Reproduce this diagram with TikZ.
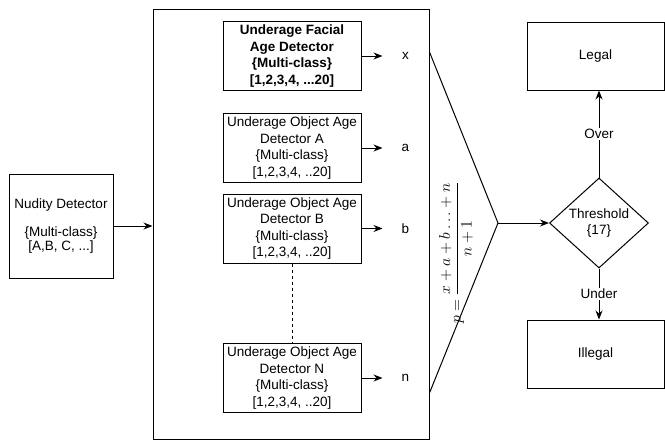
\RequirePackage{fix-cm}
\documentclass[tikz,border=0pt]{standalone}
\usepackage{fontspec}
\setmainfont{Liberation Sans}
\usetikzlibrary{shapes.geometric,arrows.meta}
\begin{document}
\begin{tikzpicture}[x=1pt,y=-1pt,line width=1pt,>={Stealth[length=9pt,width=7pt]}]
  \tikzstyle{detbox}=[draw,minimum width=138,minimum height=69,align=center,inner sep=1pt,font=\fontsize{13.5}{16.5}\selectfont]
  \tikzstyle{outlbl}=[inner sep=1pt,font=\fontsize{13.5}{16}\selectfont]
  \useasboundingbox (0,0) rectangle (665,440);
  % input stage
  \node[draw,minimum width=104,minimum height=104,align=center,font=\fontsize{13.5}{14}\selectfont] (nudity) at (61,226) {Nudity Detector\\[14pt]\{Multi-class\}\\{}[A,B, C, ...]};
  \node[draw,minimum width=276,minimum height=430] (stage) at (291,224) {};
  \draw[->] (nudity.east) -- (nudity.east -| stage.west);
  % age detectors
  \node[detbox,font=\fontsize{13.5}{16.5}\selectfont\bfseries] (face) at (292,56) {Underage Facial\\Age Detector\\\{Multi-class\}\\{}[1,2,3,4, ...20]};
  \node[detbox] (objA) at (292,148) {Underage Object Age\\Detector A\\\{Multi-class\}\\{}[1,2,3,4, ..20]};
  \node[detbox] (objB) at (292,228.5) {Underage Object Age\\Detector B\\\{Multi-class\}\\{}[1,2,3,4, ..20]};
  \node[detbox] (objN) at (292,378) {Underage Object Age\\Detector N\\\{Multi-class\}\\{}[1,2,3,4, ..20]};
  \draw[dashed] (objB.south) -- (objN.north);
  \foreach \det/\lbl in {face/x,objA/a,objB/b,objN/n} {
    \coordinate (tip\lbl) at ([xshift=21]\det.east);
    \draw[->] (\det.east) -- (tip\lbl);
    \node[outlbl] (out\lbl) at ([xshift=23]tip\lbl) {\lbl};
  }
  % averaging
  \coordinate (join) at (498,223);
  \coordinate (topin) at (stage.east |- 0,52);
  \coordinate (botin) at (stage.east |- 0,393);
  \node[rotate=90,inner sep=0pt,font=\fontsize{15.8}{18}\selectfont] (avg) at (456,253) {$\displaystyle p=\frac{x+a+b\ldots+n}{n+1}$};
  \draw (topin) -- (join) -- (botin);
  % decision
  \node[draw,diamond,minimum width=99,minimum height=90,inner sep=0pt,label={[align=center,font=\fontsize{13.5}{16}\selectfont]center:Threshold\\\{17\}}] (thr) at (599,223) {};
  \draw[->] (join) -- (thr.west);
  \node[draw,minimum width=137,minimum height=68,font=\fontsize{13.5}{16}\selectfont] (legal) at (595.5,56) {Legal};
  \node[draw,minimum width=137,minimum height=68,font=\fontsize{13.5}{16}\selectfont] (illegal) at (595.5,354) {Illegal};
  \draw[->] (thr.north) -- (thr.north |- legal.south) node[pos=0.5,fill=white,outlbl] {Over};
  \draw[->] (thr.south) -- (thr.south |- illegal.north) node[pos=0.5,fill=white,outlbl] {Under};
\end{tikzpicture}
\end{document}
